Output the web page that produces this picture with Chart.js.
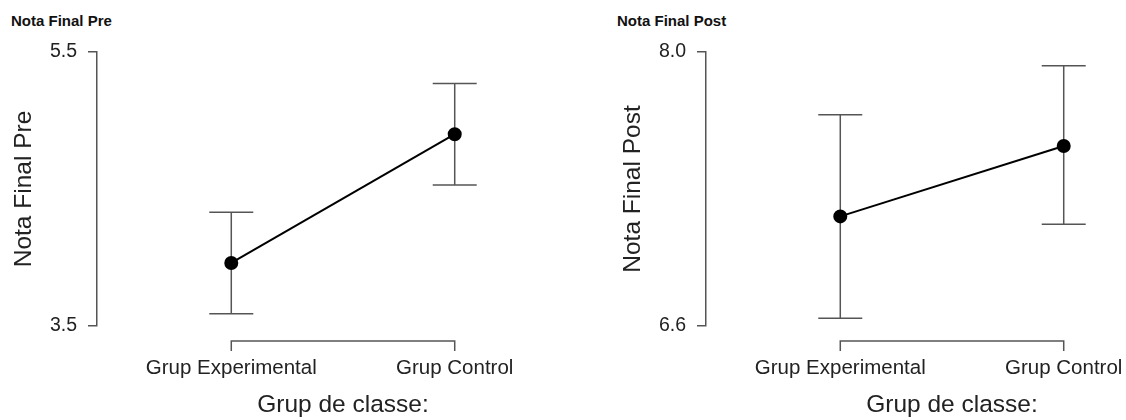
<!DOCTYPE html>
<html>
<head>
<meta charset="utf-8">
<script src="https://cdn.jsdelivr.net/npm/chart.js@4"></script>
<style>
  html, body { margin: 0; padding: 0; background: #fff; overflow: hidden; }
  body { width: 1126px; height: 420px; position: relative; }
  .panel-title {
    position: absolute; top: 13px;
    font: bold 15px "Liberation Sans", Arial, sans-serif;
    line-height: 15px; color: #111; white-space: nowrap;
  }
  canvas { position: absolute; top: 0; }
</style>
</head>
<body>
<div class="panel-title" style="left:11px">Nota Final Pre</div>
<div class="panel-title" style="left:617px">Nota Final Post</div>
<canvas id="pre" width="597" height="420" style="left:0"></canvas>
<canvas id="post" width="597" height="420" style="left:609px"></canvas>
<script>
// ---------------------------------------------------------------------------
// Data
// ---------------------------------------------------------------------------
const categories = ["Grup Experimental", "Grup Control"];

const preMean  = [3.96, 4.90];
const preLower = [3.59, 4.53];
const preUpper = [4.33, 5.27];
const preTicks = [3.5, 5.5];

const postMean  = [7.16, 7.52];
const postLower = [6.64, 7.12];
const postUpper = [7.68, 7.93];
const postTicks = [6.6, 8.0];

// ---------------------------------------------------------------------------
// Styling
// ---------------------------------------------------------------------------
const FONT = '"Liberation Sans", Arial, sans-serif';
const AXIS_GREY = "#555";
const TEXT = "#222";

// Error bars + bracket-style x axis, drawn through the chart's own scales
const errorBarPlugin = {
    id: "errorBars",
    beforeDatasetsDraw(chart, args, opts) {
        const { ctx } = chart;
        const x = chart.scales.x;
        const y = chart.scales.y;
        ctx.save();
        ctx.strokeStyle = AXIS_GREY;
        ctx.lineWidth = 1.5;
        opts.lower.forEach((lo, i) => {
            const px = x.getPixelForValue(i);
            const yLo = y.getPixelForValue(lo);
            const yHi = y.getPixelForValue(opts.upper[i]);
            ctx.beginPath();
            ctx.moveTo(px, yLo);
            ctx.lineTo(px, yHi);
            ctx.moveTo(px - 22, yLo);
            ctx.lineTo(px + 22, yLo);
            ctx.moveTo(px - 22, yHi);
            ctx.lineTo(px + 22, yHi);
            ctx.stroke();
        });
        ctx.restore();
    },
    afterDraw(chart) {
        const { ctx, chartArea } = chart;
        const x = chart.scales.x;
        const x0 = x.getPixelForValue(0);
        const x1 = x.getPixelForValue(categories.length - 1);
        const yy = chartArea.bottom + 15;
        ctx.save();
        ctx.strokeStyle = AXIS_GREY;
        ctx.lineWidth = 1.5;
        ctx.beginPath();
        ctx.moveTo(x0, yy + 10);
        ctx.lineTo(x0, yy);
        ctx.lineTo(x1, yy);
        ctx.lineTo(x1, yy + 10);
        ctx.stroke();
        ctx.restore();
    },
};

function makeChart(id, title, mean, lower, upper, ticks) {
    const points = categories.map((c, i) => ({ x: i, y: mean[i] }));
    return new Chart(document.getElementById(id), {
        type: "line",
        data: {
            datasets: [{
                data: points,
                borderColor: "#000",
                borderWidth: 2,
                pointRadius: 6,
                pointBackgroundColor: "#000",
                pointBorderColor: "#000",
                tension: 0,
                clip: false,
            }],
        },
        options: {
            responsive: false,
            animation: false,
            layout: { padding: { top: 52, left: 0, right: 0, bottom: 0 } },
            plugins: {
                legend: { display: false },
                tooltip: { enabled: false },
                errorBars: { lower, upper },
            },
            scales: {
                x: {
                    type: "linear",
                    min: -0.601,
                    max: 1.601,
                    afterBuildTicks: (s) => { s.ticks = categories.map((c, i) => ({ value: i })); },
                    afterFit: (s) => { s.height = 94; },
                    grid: { display: false, drawTicks: false },
                    border: { display: false },
                    ticks: {
                        padding: 30,
                        maxRotation: 0,
                        color: TEXT,
                        font: { family: FONT, size: 20.5 },
                        callback: (v) => categories[v],
                    },
                    title: {
                        display: true,
                        text: "Grup de classe:",
                        color: TEXT,
                        font: { family: FONT, size: 24.5 },
                        padding: { top: 0, bottom: 0 },
                    },
                },
                y: {
                    min: ticks[0],
                    max: ticks[ticks.length - 1],
                    afterBuildTicks: (s) => { s.ticks = ticks.map((v) => ({ value: v })); },
                    afterFit: (s) => { s.width = 97; },
                    grid: {
                        drawOnChartArea: false,
                        drawTicks: true,
                        tickLength: 9,
                        color: AXIS_GREY,
                        lineWidth: 1.5,
                    },
                    border: { display: true, color: AXIS_GREY, width: 1.5 },
                    ticks: {
                        padding: 11,
                        color: TEXT,
                        font: { family: FONT, size: 19.5 },
                        callback: (v) => v.toFixed(1),
                    },
                    title: {
                        display: true,
                        text: title,
                        color: TEXT,
                        font: { family: FONT, size: 24.5 },
                        padding: { top: 10, bottom: 0 },
                    },
                },
            },
        },
        plugins: [errorBarPlugin],
    });
}

makeChart("pre", "Nota Final Pre", preMean, preLower, preUpper, preTicks);
makeChart("post", "Nota Final Post", postMean, postLower, postUpper, postTicks);
</script>
</body>
</html>
